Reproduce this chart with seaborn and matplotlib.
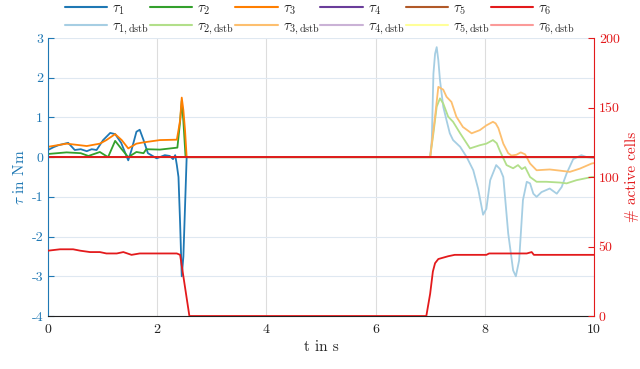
import numpy as np
import pandas as pd
import matplotlib
matplotlib.use("Agg")
import matplotlib.pyplot as plt
import seaborn as sns
from matplotlib.lines import Line2D

# ---------------- data ----------------
t_tau1 = [0, 0.10, 0.19, 0.28, 0.37, 0.49, 0.60, 0.71, 0.80, 0.89, 1.01, 1.14, 1.23, 1.34, 1.47,
          1.53, 1.62, 1.68, 1.75, 1.83, 1.99, 2.14, 2.23, 2.29, 2.33, 2.36, 2.39, 2.42, 2.45,
          2.48, 2.51, 2.54, 10.0]
tau1 = [0.18, 0.25, 0.30, 0.33, 0.36, 0.18, 0.20, 0.15, 0.20, 0.18, 0.43, 0.61, 0.58, 0.36, -0.08,
        0.18, 0.64, 0.69, 0.43, 0.10, -0.03, 0.05, 0.03, -0.05, 0.05, -0.20, -0.50, -1.67, -3.0,
        -2.5, -1.25, 0.0, 0.0]

t_tau2 = [0, 0.34, 0.60, 0.74, 0.95, 1.10, 1.23, 1.35, 1.47, 1.62, 1.75, 1.80, 2.05, 2.37, 2.42,
          2.45, 2.48, 2.52, 10.0]
tau2 = [0.08, 0.12, 0.10, 0.03, 0.13, 0.0, 0.41, 0.20, 0.0, 0.13, 0.10, 0.20, 0.19, 0.24, 0.90,
        1.42, 0.90, 0.0, 0.0]

t_tau3 = [0, 0.34, 0.71, 0.95, 1.07, 1.23, 1.35, 1.47, 1.62, 1.74, 2.05, 2.36, 2.39, 2.42, 2.45,
          2.48, 2.51, 2.54, 10.0]
tau3 = [0.26, 0.34, 0.28, 0.34, 0.43, 0.58, 0.43, 0.22, 0.34, 0.37, 0.43, 0.44, 0.68, 0.93, 1.50,
        1.18, 0.68, 0.0, 0.0]

t_zero = [0, 10.0]
tau4 = [0, 0]
tau5 = [0, 0]
tau6 = [0, 0]

t_dstb1 = [0, 7.0, 7.03, 7.06, 7.09, 7.12, 7.15, 7.18, 7.24, 7.30, 7.36, 7.42, 7.55, 7.67, 7.79,
           7.88, 7.97, 8.03, 8.10, 8.21, 8.28, 8.34, 8.43, 8.52, 8.57, 8.63, 8.70, 8.77, 8.83,
           8.89, 8.95, 9.04, 9.19, 9.32, 9.41, 9.50, 9.62, 9.77, 9.87, 10.0]
tau1_dstb = [0, 0, 0.43, 2.1, 2.6, 2.77, 2.44, 1.94, 1.27, 0.93, 0.6, 0.43, 0.26, 0.0, -0.33,
             -0.8, -1.45, -1.3, -0.58, -0.2, -0.3, -0.5, -1.92, -2.85, -3.0, -2.6, -1.08, -0.62,
             -0.66, -0.92, -1.0, -0.88, -0.79, -0.92, -0.75, -0.41, -0.05, 0.05, 0.0, -0.02]

t_dstb2 = [0, 7.0, 7.06, 7.12, 7.18, 7.24, 7.33, 7.42, 7.55, 7.73, 7.91, 8.03, 8.15, 8.22, 8.28,
           8.40, 8.52, 8.61, 8.68, 8.74, 8.83, 8.95, 9.13, 9.38, 9.50, 9.68, 9.96, 10.0]
tau2_dstb = [0, 0, 0.6, 1.27, 1.48, 1.35, 1.02, 0.89, 0.6, 0.22, 0.3, 0.34, 0.43, 0.35, 0.15,
             -0.2, -0.28, -0.2, -0.3, -0.25, -0.5, -0.62, -0.62, -0.64, -0.66, -0.58, -0.5, -0.5]

t_dstb3 = [0, 7.0, 7.09, 7.15, 7.24, 7.30, 7.39, 7.48, 7.60, 7.76, 7.91, 8.03, 8.15, 8.20, 8.25,
           8.34, 8.43, 8.49, 8.58, 8.66, 8.74, 8.83, 8.95, 9.19, 9.38, 9.56, 9.74, 9.96, 10.0]
tau3_dstb = [0, 0, 1.02, 1.77, 1.70, 1.52, 1.39, 1.02, 0.76, 0.6, 0.68, 0.8, 0.89, 0.85, 0.73,
             0.34, 0.1, 0.04, 0.06, 0.12, 0.07, -0.16, -0.33, -0.31, -0.34, -0.37, -0.29, -0.16,
             -0.15]
tau4_dstb = [0, 0]
tau5_dstb = [0, 0]
tau6_dstb = [0, 0]

t_cells = [0, 0.22, 0.46, 0.59, 0.77, 0.95, 1.07, 1.26, 1.38, 1.53, 1.68, 1.99, 2.36, 2.42, 2.59,
           6.93, 7.0, 7.05, 7.09, 7.15, 7.24, 7.33, 7.45, 8.03, 8.08, 8.13, 8.77, 8.86, 8.90, 10.0]
cells = [47, 48, 48, 47, 46, 46, 45, 45, 46, 44, 45, 45, 45, 44, 0,
         0, 16, 32, 38, 41, 42, 43, 44, 44, 45, 45, 45, 46, 44, 44]

x_ticks = [0, 2, 4, 6, 8, 10]
y_ticks = [-4, -3, -2, -1, 0, 1, 2, 3]
y2_ticks = [0, 50, 100, 150, 200]

# ---------------- style ----------------
sns.set_style("white")
plt.rcParams["font.family"] = ["cmr10", "DejaVu Serif"]
plt.rcParams["mathtext.fontset"] = "cm"
plt.rcParams["axes.unicode_minus"] = False
plt.rcParams["axes.formatter.use_mathtext"] = False

c_blue = "#1f78b4"
c_red = "#e31a1c"
colors_main = ["#1f78b4", "#33a02c", "#ff7f00", "#6a3d9a", "#b15928", "#e31a1c"]
colors_dstb = ["#a6cee3", "#b2df8a", "#fdbf6f", "#cab2d6", "#ffff99", "#fb9a99"]

fig = plt.figure(figsize=(6.4, 3.69), dpi=100)
ax = fig.add_axes([0.075, 0.1436, 0.853, 0.7534])

main_series = [(t_tau1, tau1), (t_tau2, tau2), (t_tau3, tau3),
               (t_zero, tau4), (t_zero, tau5), (t_zero, tau6)]
dstb_series = [(t_dstb1, tau1_dstb), (t_dstb2, tau2_dstb), (t_dstb3, tau3_dstb),
               (t_zero, tau4_dstb), (t_zero, tau5_dstb), (t_zero, tau6_dstb)]

lw = 1.3
for (tt, vv), c in zip(dstb_series, colors_dstb):
    sns.lineplot(x=tt, y=vv, color=c, lw=lw, ax=ax, sort=False, estimator=None)
for (tt, vv), c in zip(main_series, colors_main):
    sns.lineplot(x=tt, y=vv, color=c, lw=lw, ax=ax, sort=False, estimator=None)

ax.set_xlim(0, 10)
ax.set_ylim(-4, 3)
ax.set_xticks(x_ticks)
ax.set_yticks(y_ticks)
ax.xaxis.grid(True, color="#dddddd", lw=0.8)
ax.yaxis.grid(True, color="#dfe8f1", lw=0.8)
ax.set_axisbelow(True)
ax.tick_params(axis="x", direction="in", length=4, colors="#222222", labelsize=10, pad=6)
ax.tick_params(axis="y", direction="in", length=4, colors=c_blue, labelsize=10, labelcolor=c_blue)
ax.spines["top"].set_visible(False)
ax.spines["right"].set_visible(False)
ax.spines["left"].set_color(c_blue)
ax.spines["bottom"].set_color("#222222")
ax.set_xlabel("t in s", fontsize=11, labelpad=3)
ax.set_ylabel(r"$\tau$ in Nm", fontsize=11, color=c_blue, labelpad=3)

ax2 = ax.twinx()
sns.lineplot(x=t_cells, y=cells, color=c_red, lw=lw, ax=ax2, sort=False, estimator=None)
ax2.set_ylim(0, 200)
ax2.set_yticks(y2_ticks)
ax2.grid(False)
ax2.tick_params(axis="y", direction="in", length=4, colors=c_red, labelsize=10, labelcolor=c_red)
for s in ["top", "left", "bottom"]:
    ax2.spines[s].set_visible(False)
ax2.spines["right"].set_color(c_red)
ax2.set_ylabel("# active cells", fontsize=11, color=c_red, labelpad=4)

# legend: row 1 main, row 2 dstb (column-major ordering)
handles, labels = [], []
for i in range(6):
    handles.append(Line2D([], [], color=colors_main[i], lw=1.5))
    labels.append(r"$\tau_{%d}$" % (i + 1))
    handles.append(Line2D([], [], color=colors_dstb[i], lw=1.5))
    labels.append(r"$\tau_{%d,\mathrm{dstb}}$" % (i + 1))
fig.legend(handles, labels, ncol=6, loc="upper center", bbox_to_anchor=(0.5, 1.012),
           frameon=False, fontsize=10.5, handlelength=2.9, handletextpad=0.35,
           columnspacing=0.05, labelspacing=0.2, borderaxespad=0.0)

fig.savefig("out.png", dpi=100)
